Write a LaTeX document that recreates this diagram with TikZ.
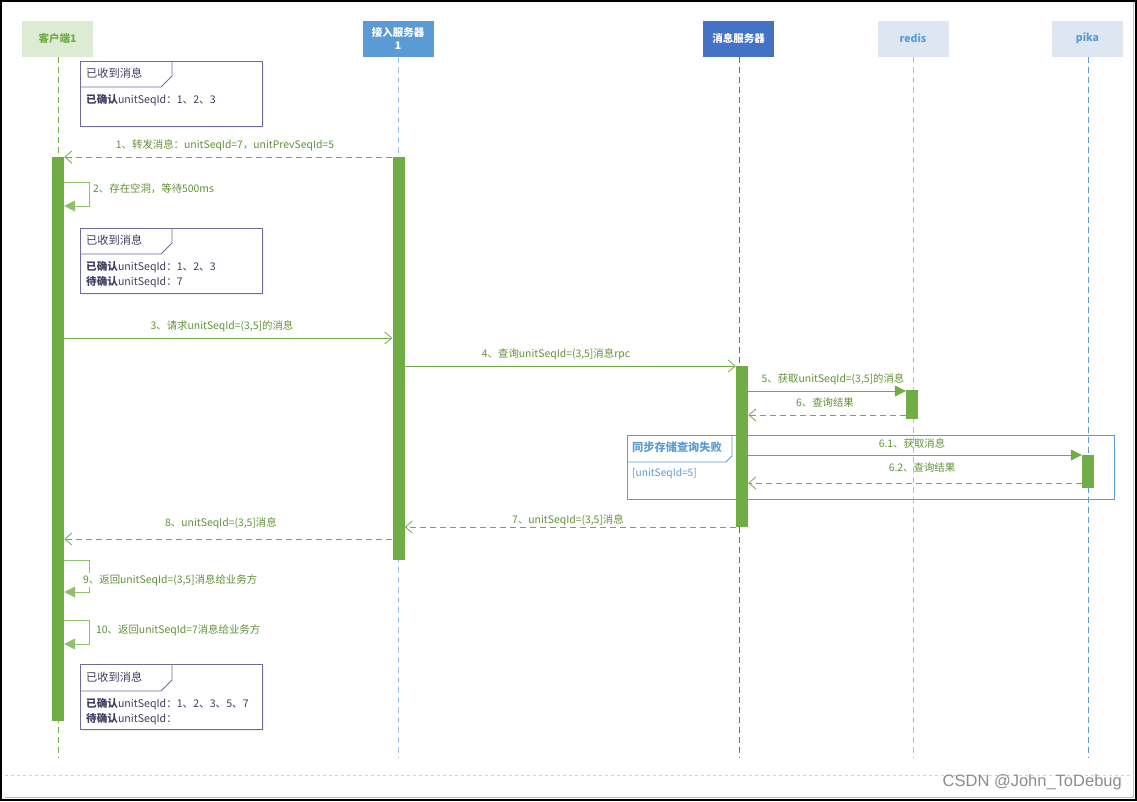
\documentclass[tikz,border=0pt]{standalone}
\usepackage{fontspec}
\setmainfont{Noto Sans CJK SC}
\newfontfamily\wmfont{Liberation Sans}
\usetikzlibrary{arrows.meta,calc,shadows}
\definecolor{actg}{HTML}{70AD47}
\definecolor{lineg}{HTML}{70AD47}
\definecolor{loopg}{HTML}{8FC06B}
\definecolor{txtg}{HTML}{5F9237}
\definecolor{cfill}{HTML}{DDEBD3}
\definecolor{jfill}{HTML}{5B9BD5}
\definecolor{xfill}{HTML}{4472C4}
\definecolor{rfill}{HTML}{DEE6F1}
\definecolor{lblue}{HTML}{9DC3E6}
\definecolor{mblue}{HTML}{5B9BD5}
\definecolor{dblue}{HTML}{4472C4}
\definecolor{notec}{HTML}{6F6C9C}
\definecolor{notet}{HTML}{3E3D63}
\definecolor{edgeb}{HTML}{8FD0F5}
\newcommand\msgfont{\fontsize{10.4}{12}\selectfont}
\newcommand\hdfont{\fontsize{10.5}{13}\selectfont\bfseries}
\newcommand\ntitle{\fontsize{11.2}{13}\selectfont}
\newcommand\nbody{\fontsize{10.6}{15}\selectfont}
\tikzset{
  head/.style={minimum width=71pt, minimum height=36pt, inner sep=0pt, font=\hdfont, align=center},
  life/.style={line width=0.9pt, dash pattern=on 6pt off 4pt},
  actbar/.style={fill=actg, draw=none, minimum width=12pt, inner sep=0pt},
  msg/.style={draw=lineg, line width=0.8pt},
  ret/.style={msg, dash pattern=on 6pt off 4pt},
  openarr/.style={-{Straight Barb[length=7pt,width=12pt]}},
  fillarr/.style={-{Triangle[length=11pt,width=11pt]}},
  loopline/.style={draw=loopg, line width=0.8pt},
  lbl/.style={font=\msgfont, text=txtg, inner sep=1pt},
  notebox/.style={draw=notec, line width=0.8pt, fill=white, anchor=north west, minimum width=182pt, minimum height=65pt, inner sep=0pt, drop shadow={shadow xshift=2pt, shadow yshift=-2pt, fill=black!12}},
  noteline/.style={draw=notec, line width=0.8pt},
  ntxt/.style={anchor=west, inner sep=0pt, text=notet, align=left},
}
\begin{document}
\begin{tikzpicture}[x=1pt,y=-1pt]
\useasboundingbox (0,0) rectangle (1137,801);
% frame lines
\draw[edgeb, line width=1pt] (1133,0) -- (1133,797) -- (5,797);
\draw[black!18, dashed, line width=0.6pt] (5,775) -- (1133,775);
\draw[black, line width=1.6pt] (0.8,0.8) rectangle (1136.2,800.2);
\node[text=black!45, font={\wmfont\fontsize{16.5}{18}\selectfont}, anchor=east, inner sep=0pt] (wm) at (1122,782) {CSDN @John\_ToDebug};

% headers
\node[head, fill=cfill, text=actg] (h1) at (57.5,38.5) {客户端1};
\node[head, fill=jfill, text=white, font={\fontsize{10.5}{13}\selectfont\bfseries}] (h2) at (398,38.5) {接入服务器\\1};
\node[head, fill=xfill, text=white] (h3) at (738.5,38.5) {消息服务器};
\node[head, fill=rfill, text=mblue] (h4) at (913,38.5) {redis};
\node[head, fill=rfill, text=mblue] (h5) at (1087.5,38.5) {pika};

% lifelines
\coordinate (e1) at (58,758);
\coordinate (e2) at (398,758);
\coordinate (e3) at (739,758);
\coordinate (e4) at (913,758);
\coordinate (e5) at (1088,758);
\draw[life, actg] (h1.south -| e1) -- (e1);
\draw[life, lblue] (h2.south -| e2) -- (e2);
\draw[life, dblue] (h3.south -| e3) -- (e3);
\draw[life, lblue] (h4.south -| e4) -- (e4);
\draw[life, mblue] (h5.south -| e5) -- (e5);

% notes
\node[notebox] (n1) at (80,61) {};
\draw[noteline] ($(n1.north west)+(0,26)$) -- ++(81,0) -- ++(11,-11) -- ($(n1.north west)+(92,0)$);
\node[ntxt, font=\ntitle] (n1t) at (86,73) {已收到消息};
\node[ntxt, font=\nbody] (n1b) at (86,100) {\textbf{已确认}unitSeqId：1、2、3};

\node[notebox] (n2) at (80,228) {};
\draw[noteline] ($(n2.north west)+(0,26)$) -- ++(81,0) -- ++(11,-11) -- ($(n2.north west)+(92,0)$);
\node[ntxt, font=\ntitle] (n2t) at (86,240) {已收到消息};
\node[ntxt, font=\nbody] (n2b) at (86,274.5) {\textbf{已确认}unitSeqId：1、2、3\\\textbf{待确认}unitSeqId：7};

\node[notebox] (n3) at (80,664) {};
\draw[noteline] ($(n3.north west)+(0,27)$) -- ++(81,0) -- ++(11,-11) -- ($(n3.north west)+(92,0)$);
\node[ntxt, font=\ntitle] (n3t) at (86,677) {已收到消息};
\node[ntxt, font=\nbody] (n3b) at (86,711.5) {\textbf{已确认}unitSeqId：1、2、3、5、7\\\textbf{待确认}unitSeqId：};

% combined fragment
\node[draw=mblue, line width=0.8pt, anchor=north west, minimum width=487pt, minimum height=64pt, inner sep=0pt] (fr) at (627,435) {};
\draw[draw=mblue, line width=0.8pt] ($(fr.north west)+(0,27)$) -- ++(99,0) -- ++(6,-6) -- ($(fr.north west)+(105,0)$);
\node[anchor=west, inner sep=0pt, text=mblue, font={\fontsize{11.2}{13}\selectfont\bfseries}] (frt) at (632,447) {同步存储查询失败};
\node[anchor=west, inner sep=0pt, text=mblue, font={\fontsize{10.2}{12}\selectfont}] (frg) at (632,474) {[unitSeqId=5]};

% activation bars
\node[actbar, minimum height=564pt] (b1) at (58,439) {};
\node[actbar, minimum height=403pt] (b2) at (398.5,358.5) {};
\node[actbar, minimum height=161pt] (b3) at (742,446.5) {};
\node[actbar, minimum height=29pt] (b4) at (912,404.5) {};
\node[actbar, minimum height=33pt] (b5) at (1088,471.5) {};

% messages
\draw[ret, openarr] (b2.west |- 0,157) -- (b1.east |- 0,157);
\node[lbl] (l1) at (225,145) {1、转发消息：unitSeqId=7，unitPrevSeqId=5};

\coordinate (s2) at (89,182);
\draw[loopline, fillarr] (b1.east |- s2) -- (s2) -- (89,206) -- (b1.east |- 0,206);
\node[lbl, anchor=west] (l2) at (92,189) {2、存在空洞，等待500ms};

\draw[msg, openarr] (b1.east |- 0,338) -- (b2.west |- 0,338);
\node[lbl] (l3) at (222,326) {3、请求unitSeqId=(3,5]的消息};

\draw[msg, openarr] (b2.east |- 0,366) -- (b3.west |- 0,366);
\node[lbl] (l4) at (556,354) {4、查询unitSeqId=(3,5]消息rpc};

\draw[msg, fillarr] (b3.east |- 0,391) -- (b4.west |- 0,391);
\node[lbl] (l5) at (833,379) {5、获取unitSeqId=(3,5]的消息};

\draw[ret, openarr] (b4.west |- 0,415) -- (b3.east |- 0,415);
\node[lbl] (l6) at (825,403) {6、查询结果};

\draw[msg, fillarr] (b3.east |- 0,455) -- (b5.west |- 0,455);
\node[lbl] (l61) at (912,443) {6.1、获取消息};

\draw[ret, openarr] (b5.west |- 0,483) -- (b3.east |- 0,483);
\node[lbl] (l62) at (922,468) {6.2、查询结果};

\draw[ret, openarr] (b3.west |- 0,527) -- (b2.east |- 0,527);
\node[lbl] (l7) at (568,520) {7、unitSeqId=(3,5]消息};

\draw[ret, openarr] (b2.west |- 0,539) -- (b1.east |- 0,539);
\node[lbl] (l8) at (221,523) {8、unitSeqId=(3,5]消息};

\coordinate (s9) at (89,560);
\draw[loopline, fillarr] (b1.east |- s9) -- (s9) -- (89,592) -- (b1.east |- 0,592);
\node[lbl, anchor=west, fill=white] (l9) at (82,580) {9、返回unitSeqId=(3,5]消息给业务方};

\coordinate (s10) at (89,620);
\draw[loopline, fillarr] (b1.east |- s10) -- (s10) -- (89,644) -- (b1.east |- 0,644);
\node[lbl, anchor=west] (l10) at (95,630) {10、返回unitSeqId=7消息给业务方};
\end{tikzpicture}
\end{document}
